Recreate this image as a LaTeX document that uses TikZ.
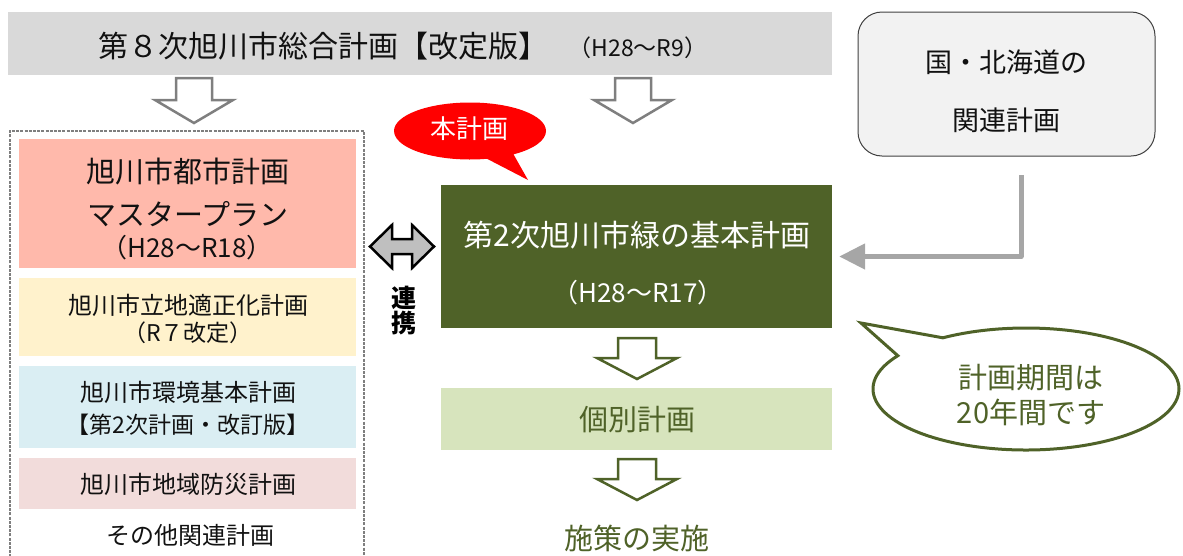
\documentclass[tikz,border=0pt]{standalone}
\usepackage{fontspec}
\setmainfont{Noto Sans CJK JP}
\usetikzlibrary{shapes.callouts,arrows.meta}
\definecolor{topgray}{HTML}{D9D9D9}
\definecolor{pinkc}{HTML}{FFB9AB}
\definecolor{yelc}{HTML}{FFF2CC}
\definecolor{bluec}{HTML}{DAEEF3}
\definecolor{rosec}{HTML}{F2DCDB}
\definecolor{dgreen}{HTML}{4F6228}
\definecolor{lgreen}{HTML}{D7E4BD}
\definecolor{arrgray}{HTML}{7F7F7F}
\definecolor{lgray}{HTML}{A6A6A6}
\definecolor{dblfill}{HTML}{BFBFBF}
\definecolor{boxgray}{HTML}{F2F2F2}
\definecolor{txt}{HTML}{111111}
\newcommand\fsz[1]{\fontsize{#1}{#1}\selectfont}
\tikzset{
  box/.style={inner sep=0, outer sep=0, minimum width=337, minimum height=#1},
  txtn/.style={inner sep=0, text=txt, font=\fsz{#1}},
  downarr/.pic={
    \draw[pic actions] (-18,0) -- (18,0) -- (18,22) -- (39,22) -- (0,45) -- (-39,22) -- (-18,22) -- cycle;
  },
  gdownarr/.pic={
    \draw[pic actions] (-19,0) -- (19,0) -- (19,20) -- (40,20) -- (0,41) -- (-40,20) -- (-19,20) -- cycle;
  },
  grarr/.style={draw=arrgray, line width=2.5pt, fill=white, line join=miter},
  gnarr/.style={draw=dgreen, line width=2.5pt, fill=white, line join=miter},
}
\begin{document}
\begin{tikzpicture}[x=1pt,y=-1pt]
\useasboundingbox (0,0) rectangle (1183,555);
% top bar
\node[fill=topgray, inner sep=0, minimum width=824, minimum height=63] (top) at (420,43.5) {};
\node[txtn=30] (toptitle) at (323,46) {第８次旭川市総合計画【改定版】};
\node[txtn=23] (topyears) at (638,48) {（H28～R9）};
% right rounded box
\node[draw=black!75, line width=1pt, fill=boxgray, rounded corners=24, inner sep=0, minimum width=297, minimum height=144] (natbox) at (1006.5,84) {};
\node[txtn=27] (nat1) at (1006,62) {国・北海道の};
\node[txtn=27] (nat2) at (1006,120) {関連計画};
% gray down arrows
\pic[grarr] at (194,78) {downarr};
\pic[grarr] at (633,78) {downarr};
% dashed group
\draw[arrgray, line width=1.5pt, dash pattern=on 3pt off 1.2pt] (10,570) -- (10,131) -- (364,131) -- (364,570);
% left boxes
\node[box=129, fill=pinkc] (pink) at (187.5,203.5) {};
\node[txtn=29] (pink1) at (188,172) {旭川市都市計画};
\node[txtn=29] (pink2) at (188,214) {マスタープラン};
\node[txtn=26] (pink3) at (187,248) {（H28～R18）};
\node[box=78, fill=yelc] (yel) at (187.5,317) {};
\node[txtn=24] (yel1) at (188,305) {旭川市立地適正化計画};
\node[txtn=23] (yel2) at (188,333) {（R７改定）};
\node[box=82, fill=bluec] (blue) at (187.5,407) {};
\node[txtn=24] (blue1) at (188,392) {旭川市環境基本計画};
\node[txtn=23] (blue2) at (188,425) {【第2次計画・改訂版】};
\node[box=51, fill=rosec] (rose) at (187.5,483.5) {};
\node[txtn=24] (rose1) at (188,484) {旭川市地域防災計画};
\node[txtn=24] (other) at (190,535) {その他関連計画};
% double arrow
\draw[fill=dblfill, draw=black, line width=2.5pt, line join=miter]
  (370,246.5) -- (392,225) -- (392,239) -- (412,239) -- (412,225) -- (434,246.5)
  -- (412,268) -- (412,254) -- (392,254) -- (392,268) -- cycle;
\node[inner sep=0, text=black, font=\fsz{25}\bfseries] (ren) at (404,298) {連};
\node[inner sep=0, text=black, font=\fsz{25}\bfseries] (kei) at (404,323) {携};
% main plan
\node[fill=dgreen, inner sep=0, minimum width=391, minimum height=143] (main) at (636.5,256.5) {};
\node[inner sep=0, text=white, font=\fsz{30}] (main1) at (637,235) {第2次旭川市緑の基本計画};
\node[inner sep=0, text=white, font=\fsz{26}] (main2) at (638,293) {（H28～R17）};
% green arrows
\pic[gnarr] at (637,338) {gdownarr};
\node[fill=lgreen, inner sep=0, minimum width=391, minimum height=62] (indiv) at (636.5,419) {};
\node[inner sep=0, text=dgreen, font=\fsz{29}] (indivt) at (637,420) {個別計画};
\pic[gnarr] at (637,459) {gdownarr};
\node[inner sep=0, text=dgreen, font=\fsz{29}] (shisaku) at (637,538) {施策の実施};
% red callout
\node[ellipse callout, fill=red, inner sep=0, minimum width=152, minimum height=57,
  callout absolute pointer={(528,180)}, callout pointer arc=22] (honkeikaku) at (470,131) {};
\node[inner sep=0, text=white, font=\fsz{26}] (hontxt) at (469,129) {本計画};
% L arrow
\coordinate (lstart) at (1021,175);
\draw[lgray, line width=5pt, line join=round, shorten >=7pt, -{Triangle[width=25pt,length=26pt]}] (lstart) |- (main.east);
% green callout
\node[ellipse callout, draw=dgreen, line width=3pt, fill=white, inner sep=0, minimum width=306, minimum height=122,
  callout absolute pointer={(861,323)}, callout pointer arc=24] (period) at (1026,389) {};
\node[inner sep=0, text=dgreen, font=\fsz{29}] (per1) at (1031,378) {計画期間は};
\node[inner sep=0, text=dgreen, font=\fsz{29}] (per2) at (1031,412) {20年間です};
\end{tikzpicture}
\end{document}
